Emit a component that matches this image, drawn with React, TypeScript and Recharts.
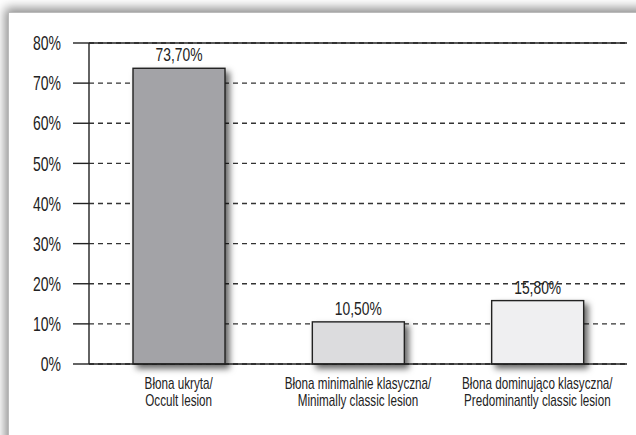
import React from 'react';
import {BarChart,Bar,XAxis,YAxis,CartesianGrid,ReferenceLine,LabelList,Cell} from 'recharts';

// data
const categories=['Błona ukryta/|Occult lesion','Błona minimalnie klasyczna/|Minimally classic lesion','Błona dominująco klasyczna/|Predominantly classic lesion'];
const values=[73.7,10.5,15.8];
const valueLabels=['73,70%','10,50%','15,80%'];
const barColors=['#a3a3a7','#dcdcde','#efeff1'];
const yTicks=[0,10,20,30,40,50,60,70,80];

// no condensed font installed -> squeeze Liberation Sans horizontally
const font='"Liberation Sans",Arial,sans-serif';
const ink='#222';

const data=categories.map((c,i)=>({name:c,value:values[i],label:valueLabels[i]}));

const CatTick=(p:any)=>{
  const [a,b]=String(p.payload.value).split('|');
  return(
    <g transform={`translate(${p.x},${p.y}) scale(0.73,1)`}>
      <text x={0} y={0} textAnchor="middle" fontFamily={font} fontSize={16} fill={ink}>
        <tspan x={0} dy={17}>{a}</tspan>
        <tspan x={0} dy={17.5}>{b}</tspan>
      </text>
    </g>
  );
};

const YTick=(p:any)=>(
  <g transform={`translate(${p.x},${p.y}) scale(0.7,1)`}>
    <text x={0} y={0} dy="0.36em" textAnchor="end" fontFamily={font} fontSize={20} fill={ink}>{`${p.payload.value}%`}</text>
  </g>
);

const ValLabel=(p:any)=>{
  const{x,y,width,value}=p;
  return(
    <g transform={`translate(${x+width/2},${y-7}) scale(0.77,1)`}>
      <text x={0} y={0} textAnchor="middle" fontFamily={font} fontSize={18} fill={ink}>{value}</text>
    </g>
  );
};

const ShadowBar=(p:any)=>{
  const{x,y,width,height,fill}=p;
  return <rect x={x} y={y} width={width} height={height} fill={fill} stroke={ink} strokeWidth={1.4} style={{filter:'drop-shadow(4px 4px 3px rgba(0,0,0,0.6))'}}/>;
};

const App:React.FC=()=>{
  return(
    <div style={{position:'absolute',left:0,top:0,width:'636px',height:'435px',overflow:'hidden',background:'#fff'}}>
      {/* frame with soft shadow top/left */}
      <div style={{position:'absolute',left:'8px',top:'12px',width:'660px',height:'460px',background:'#fff',borderLeft:'1px solid #bbb',borderTop:'1px solid #bbb',boxShadow:'-3px -4px 10px rgba(0,0,0,0.45)'}}/>
      <div style={{position:'absolute',left:0,top:0}}>
        <BarChart width={636} height={435} data={data} margin={{top:43,right:9,left:0,bottom:11}} barSize={92}>
          <CartesianGrid vertical={false} stroke="#333" strokeDasharray="5 4" strokeWidth={1.3}/>
          <YAxis domain={[0,80]} ticks={yTicks} interval={0} width={89} axisLine={{stroke:ink,strokeWidth:1.4}} tickLine={{stroke:ink,strokeWidth:1.4}} tickSize={16} tickMargin={12} tick={<YTick/>}/>
          <XAxis dataKey="name" height={60} axisLine={{stroke:ink,strokeWidth:1.4}} tickLine={false} tick={<CatTick/>} interval={0}/>
          <ReferenceLine y={80} stroke={ink} strokeWidth={1.4}/>
          <Bar dataKey="value" isAnimationActive={false} shape={<ShadowBar/>}>
            {data.map((d,i)=><Cell key={i} fill={barColors[i]}/>)}
            <LabelList dataKey="label" content={<ValLabel/>}/>
          </Bar>
        </BarChart>
      </div>
    </div>
  );
};
export default App;
